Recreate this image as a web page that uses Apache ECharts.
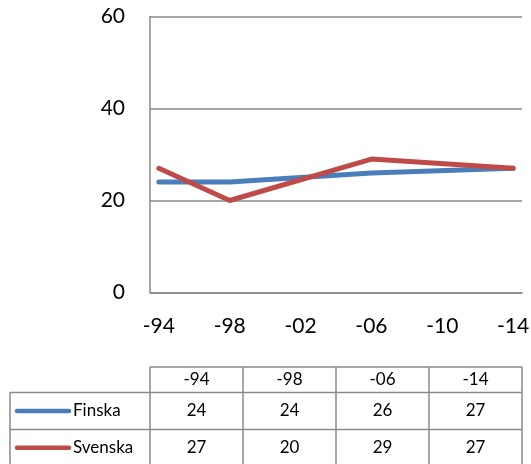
<!DOCTYPE html>
<html>
<head>
<meta charset="utf-8">
<script src="https://cdn.jsdelivr.net/npm/echarts@6/dist/echarts.min.js"></script>
<style>
  html, body { margin: 0; padding: 0; background: #fff; }
  #chart { width: 531px; height: 464px; }
</style>
</head>
<body>
<div id="chart"></div>
<script>
// data
const years = [1994, 1998, 2006, 2014];
const xTicks = [1994, 1998, 2002, 2006, 2010, 2014];
const finska = [24, 24, 26, 27];
const svenska = [27, 20, 29, 27];
const seriesNames = ["Finska", "Svenska"];
const colors = ["#4A7EBB", "#BE4B48"];

const font = "Lato";
const gridColor = "#8A8A8A";
const yearLabel = (v) => "-" + String(v).slice(2);

// table layout
const tableLeft = 10;
const colX0 = 150;
const colW = 93;
const rowY = [367, 392.5, 429.5, 466];
const tableRight = colX0 + colW * years.length;

function tableGraphics() {
  const els = [];
  const line = (x1, y1, x2, y2) =>
    els.push({
      type: "line",
      shape: { x1, y1, x2, y2 },
      style: { stroke: gridColor, lineWidth: 1.5 },
    });
  const text = (x, y, str, align) =>
    els.push({
      type: "text",
      x,
      y,
      style: {
        text: str,
        font: "17px " + font,
        fill: "#000",
        align: align || "center",
        verticalAlign: "middle",
      },
    });

  // horizontal lines
  line(colX0, rowY[0], tableRight, rowY[0]);
  for (let i = 1; i < rowY.length; i++) line(tableLeft, rowY[i], tableRight, rowY[i]);
  // vertical lines
  line(tableLeft, rowY[1], tableLeft, rowY[3]);
  for (let c = 0; c <= years.length; c++) {
    const x = colX0 + colW * c;
    line(x, rowY[0], x, rowY[3]);
  }
  // header
  years.forEach((y, c) => text(colX0 + colW * (c + 0.5), (rowY[0] + rowY[1]) / 2, yearLabel(y)));
  // rows
  [finska, svenska].forEach((vals, r) => {
    const cy = (rowY[r + 1] + rowY[r + 2]) / 2;
    els.push({
      type: "line",
      shape: { x1: 17, y1: cy, x2: 69, y2: cy },
      style: { stroke: colors[r], lineWidth: 4.5, lineCap: "round" },
    });
    text(73, cy, seriesNames[r], "left");
    vals.forEach((v, c) => text(colX0 + colW * (c + 0.5), cy, String(v)));
  });
  return els;
}

const chart = echarts.init(document.getElementById("chart"), null, { renderer: "canvas" });
chart.setOption({
  animation: false,
  backgroundColor: "#fff",
  grid: {
    left: 150,
    top: 16.5,
    width: tableRight - 150,
    height: 276,
    outerBoundsMode: "none",
  },
  xAxis: {
    type: "value",
    min: 1993.5,
    max: 2014.5,
    axisLine: { show: true, lineStyle: { color: gridColor, width: 1.5 } },
    axisTick: { show: false },
    splitLine: { show: false },
    axisLabel: {
      customValues: xTicks,
      formatter: yearLabel,
      fontFamily: font,
      fontSize: 21,
      color: "#000",
      margin: 23,
    },
  },
  yAxis: {
    type: "value",
    min: 0,
    max: 60,
    interval: 20,
    axisLine: { show: true, lineStyle: { color: gridColor, width: 1.5 } },
    axisTick: { show: false },
    splitLine: { show: true, lineStyle: { color: gridColor, width: 1.5 } },
    axisLabel: {
      fontFamily: font,
      fontSize: 21,
      color: "#000",
      margin: 25,
    },
  },
  series: [finska, svenska].map((vals, i) => ({
    name: seriesNames[i],
    type: "line",
    data: years.map((y, j) => [y, vals[j]]),
    symbol: "none",
    lineStyle: { color: colors[i], width: 5, cap: "round", join: "round" },
    itemStyle: { color: colors[i] },
  })),
  graphic: tableGraphics(),
});
</script>
</body>
</html>
